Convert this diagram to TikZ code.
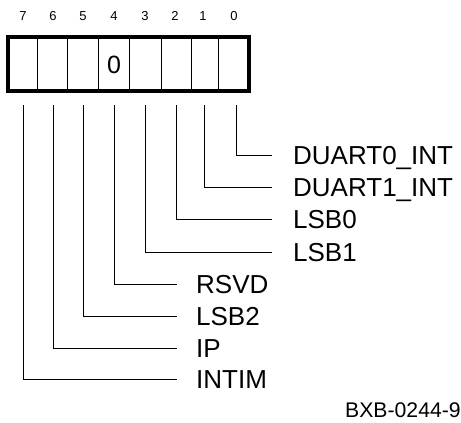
\documentclass[tikz,border=0pt]{standalone}
\usepackage{fontspec}
\setmainfont{Liberation Sans}
\begin{document}
\begin{tikzpicture}[x=1pt,y=-1pt,
  thin line/.style={line width=1pt},
  bitnum/.style={inner sep=0pt,font=\fontsize{13}{15}\selectfont},
  lab/.style={inner sep=0pt,anchor=west,text height=18.6pt,text depth=0pt,font=\fontsize{26}{30}\selectfont},
  tag/.style={inner sep=0pt,anchor=base west,font=\fontsize{21.2}{24}\selectfont}]
\useasboundingbox[clip] (0,0) rectangle (461,423);
% bit numbers
\foreach \b/\x in {7/23,6/53,5/83,4/114,3/145,2/175,1/203,0/234}
  \node[bitnum] (n\b) at (\x,16) {\b};
% register box
\draw[line width=4pt] (8,37) rectangle (249,91);
\foreach \x in {37.5,67,98,129,161,191,218.5}
  \draw[thin line] (\x,37) -- (\x,91);
\node[inner sep=0pt,font=\fontsize{25}{30}\selectfont] (z) at (114,65) {0};
% start points of connectors
\foreach \b/\x in {7/23,6/53,5/83,4/114,3/145,2/176,1/204,0/236}
  \coordinate (v\b) at (\x,105);
% labels
\node[lab] (l0) at (293,155) {DUART0\_INT};
\node[lab] (l1) at (293,187) {DUART1\_INT};
\node[lab] (l2) at (293,219) {LSB0};
\node[lab] (l3) at (293,252) {LSB1};
\node[lab] (l4) at (196,284) {RSVD};
\node[lab] (l5) at (196,316) {LSB2};
\node[lab] (l6) at (196,348) {IP};
\node[lab] (l7) at (196,379) {INTIM};
% connectors
\foreach \b in {0,1,2,3}
  \draw[thin line] (v\b) |- ([xshift=-21pt]l\b.west);
\foreach \b in {4,5,6,7}
  \draw[thin line] (v\b) |- ([xshift=-19pt]l\b.west);
% figure tag
\node[tag] (t) at (345,417) {BXB-0244-92};
\end{tikzpicture}
\end{document}
